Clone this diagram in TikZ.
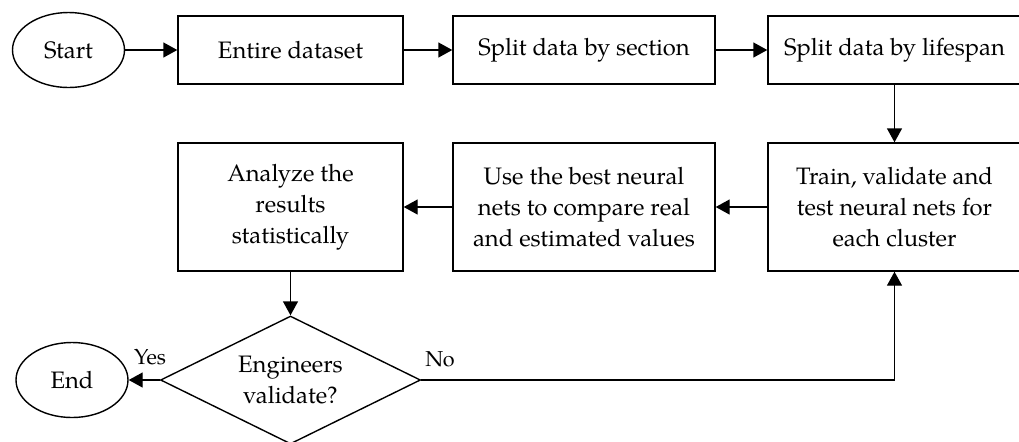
\documentclass[tikz,border=0pt]{standalone}
\usepackage{fontspec}
\setmainfont{TeX Gyre Pagella}
\usepackage{tikz}
\usetikzlibrary{arrows.meta,shapes.geometric}

\begin{document}
\begin{tikzpicture}[x=0.5pt, y=-0.5pt, line width=0.7pt,
    every node/.style={font=\fontsize{11.9}{15.5}\selectfont},
    box/.style={draw, rectangle, align=center, inner sep=2pt},
    term/.style={draw, ellipse, minimum width=56pt, minimum height=37.5pt, inner sep=0pt},
    dec/.style={draw, diamond, align=center, aspect=2.03, minimum width=130pt,
      minimum height=64pt, inner sep=0pt},
    arr/.style={-{Triangle[length=7pt,width=7.5pt]}}]
  \useasboundingbox (0,0) rectangle (1019,441);
  % first row
  \node[term] (start) at (68.5,50) {Start};
  \node[box, minimum width=112.5pt, minimum height=34pt] (entire) at (290.5,50) {Entire dataset};
  \node[box, minimum width=131pt, minimum height=34pt] (section) at (584,50) {Split data by section};
  \node[box, minimum width=126.5pt, minimum height=34pt] (lifespan) at (894.5,50) {Split data by lifespan};
  % second row
  \node[box, minimum width=126.5pt, minimum height=64pt] (train) at (894.5,207)
    {Train, validate and\\test neural nets for\\each cluster};
  \node[box, minimum width=131pt, minimum height=64pt] (best) at (584,207)
    {Use the best neural\\nets to compare real\\and estimated values};
  \node[box, minimum width=112.5pt, minimum height=64pt] (analyze) at (290.5,207)
    {Analyze the\\results\\statistically};
  % decision
  \node[dec] (check) at (290.5,380) {Engineers\\validate?};
  \node[term] (end) at (72,380) {End};
  \node[font=\fontsize{10.8}{12}\selectfont] (yes) at (150,357) {Yes};
  \node[font=\fontsize{10.8}{12}\selectfont] (no) at (440,359) {No};
  % connectors
  \draw[arr] (start) -- (entire);
  \draw[arr] (entire) -- (section);
  \draw[arr] (section) -- (lifespan);
  \draw[arr] (lifespan) -- (train);
  \draw[arr] (train) -- (best);
  \draw[arr] (best) -- (analyze);
  \draw[arr] (analyze) -- (check);
  \draw[arr] (check) -- (end);
  \draw[arr] (check.east) -- (check.east -| train.south) -- (train.south);
\end{tikzpicture}
\end{document}
